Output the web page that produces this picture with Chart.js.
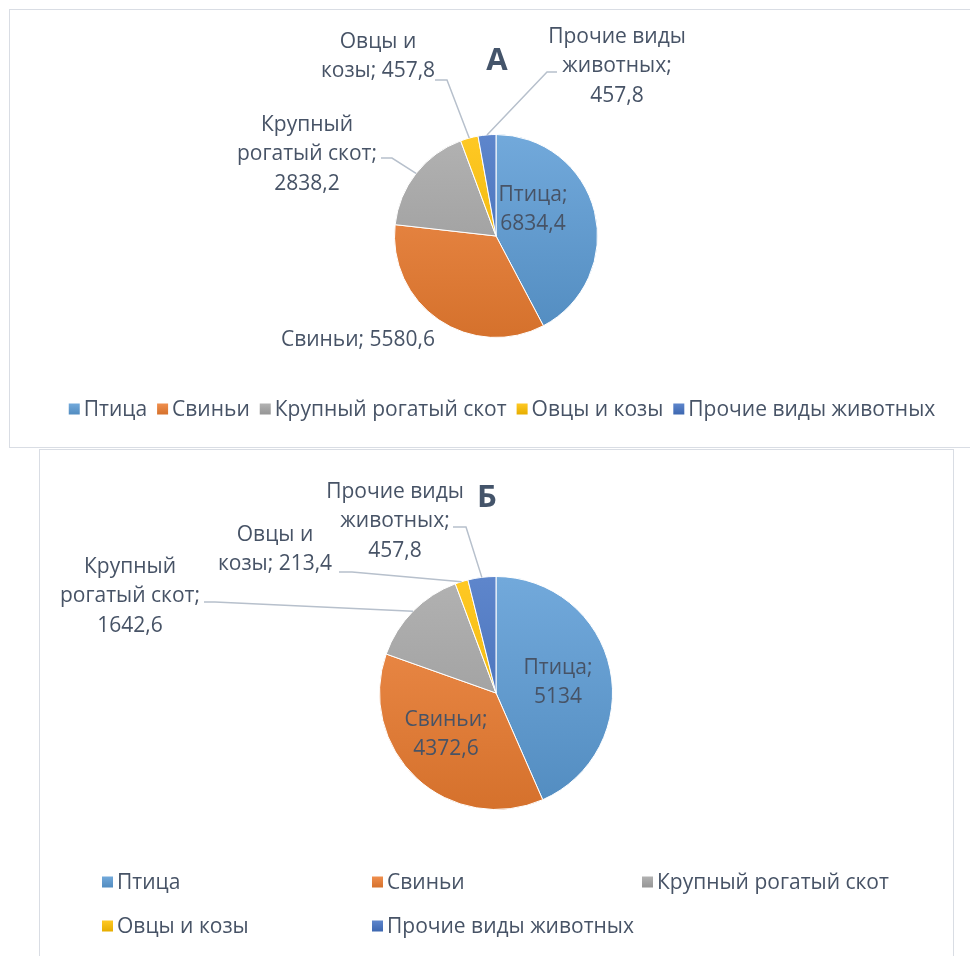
<!DOCTYPE html>
<html><head><meta charset="utf-8">
<script src="https://cdn.jsdelivr.net/npm/chart.js@4.4.1/dist/chart.umd.min.js"></script>
<style>
html,body{margin:0;padding:0;background:#fff;}
body{width:970px;height:956px;overflow:hidden;position:relative;}
.box{position:absolute;border:1.5px solid #D9DDE4;box-sizing:border-box;}
#boxA{left:9px;top:9px;width:1000px;height:439px;}
#boxB{left:39px;top:449px;width:915px;height:530px;}
.wrap{position:absolute;}
#wrapA{left:10px;top:10px;width:960px;height:437px;}
#wrapB{left:40px;top:451px;width:912px;height:505px;}
</style></head>
<body>
<div class="box" id="boxA"></div>
<div class="box" id="boxB"></div>
<div class="wrap" id="wrapA"><canvas id="chartA" width="960" height="437"></canvas></div>
<div class="wrap" id="wrapB"><canvas id="chartB" width="912" height="505"></canvas></div>
<script>
const categories = ['Птица', 'Свиньи', 'Крупный рогатый скот', 'Овцы и козы', 'Прочие виды животных'];
const valuesA = [6834.4, 5580.6, 2838.2, 457.8, 457.8];
const valuesB = [5134, 4372.6, 1642.6, 213.4, 457.8];
const titleA = 'А';
const titleB = 'Б';
const colors = ['#5B9BD5', '#ED7D31', '#A5A5A5', '#FFC000', '#4472C4'];

const FONT = "'Open Sans', 'DejaVu Sans', sans-serif";
const TEXT = '#475366';

function fmt(v) { return String(v).replace('.', ','); }
function shade(hex, p) {
  const n = parseInt(hex.slice(1), 16);
  let r = n >> 16, g = (n >> 8) & 255, b = n & 255;
  const f = c => p >= 0 ? Math.round(c + (255 - c) * p) : Math.round(c * (1 + p));
  return `rgb(${f(r)},${f(g)},${f(b)})`;
}
function gradFill(ctx) {
  const chart = ctx.chart, a = chart.chartArea;
  const c = colors[ctx.dataIndex];
  if (!a) return c;
  const g = chart.ctx.createLinearGradient(0, a.top, 0, a.bottom);
  g.addColorStop(0, shade(c, 0.14));
  g.addColorStop(1, shade(c, -0.1));
  return g;
}

const labelPlugin = {
  id: 'pieLabels',
  afterDatasetsDraw(chart, args, opts) {
    const meta = chart.getDatasetMeta(0);
    const ctx = chart.ctx;
    const a0 = meta.data[0];
    const cx = a0.x, cy = a0.y, r = a0.outerRadius;
    ctx.save();
    ctx.font = opts.font;
    ctx.fillStyle = TEXT;
    ctx.textAlign = 'center';
    ctx.textBaseline = 'middle';
    ctx.strokeStyle = '#B7C0CC';
    ctx.lineWidth = 1.5;
    opts.items.forEach((it, i) => {
      const arc = meta.data[i];
      const v = chart.data.datasets[0].data[i];
      if (it.leader) {
        const mid = (arc.startAngle + arc.endAngle) / 2;
        const ex = cx + Math.cos(mid) * r, ey = cy + Math.sin(mid) * r;
        ctx.beginPath();
        ctx.moveTo(cx + it.leader[0], cy + it.leader[1]);
        ctx.lineTo(cx + it.leader[2], cy + it.leader[1]);
        ctx.lineTo(ex, ey);
        ctx.stroke();
      }
      it.lines.forEach((s, k) => {
        ctx.fillText(s.replace('{v}', fmt(v)), cx + it.dx, cy + it.dy + k * opts.lineHeight);
      });
    });
    ctx.font = opts.titleFont;
    ctx.fillStyle = '#44546A';
    ctx.fillText(opts.title, cx + opts.titlePos[0], cy + opts.titlePos[1]);
    ctx.restore();
  }
};

const legendPlugin = {
  id: 'customLegend',
  afterDraw(chart, args, opts) {
    const ctx = chart.ctx;
    const items = chart.options.plugins.legend.labels.generateLabels(chart);
    ctx.save();
    ctx.font = opts.font;
    ctx.textBaseline = 'middle';
    ctx.textAlign = 'left';
    const box = opts.box;
    let positions = [];
    if (opts.mode === 'row') {
      const widths = items.map(it => box + opts.gapText + ctx.measureText(it.text).width);
      const total = widths.reduce((s, w) => s + w, 0) + opts.gapItem * (items.length - 1);
      let x = opts.centerX - total / 2;
      items.forEach((it, i) => { positions.push([x, opts.y]); x += widths[i] + opts.gapItem; });
    } else {
      items.forEach((it, i) => {
        const col = i % opts.cols, row = Math.floor(i / opts.cols);
        positions.push([opts.x0 + col * opts.colW, opts.y0 + row * opts.rowH]);
      });
    }
    items.forEach((it, i) => {
      const [x, y] = positions[i];
      const c = colors[it.index];
      const g = ctx.createLinearGradient(0, y - box / 2, 0, y + box / 2);
      g.addColorStop(0, shade(c, 0.14));
      g.addColorStop(1, shade(c, -0.1));
      ctx.fillStyle = g;
      ctx.fillRect(x, y - box / 2, box, box);
      ctx.fillStyle = TEXT;
      ctx.fillText(it.text, x + box + opts.gapText, y + 1);
    });
    ctx.restore();
  }
};

function makeChart(id, values, padding, labelOpts, legendOpts) {
  return new Chart(document.getElementById(id), {
    type: 'pie',
    data: {
      labels: categories,
      datasets: [{
        data: values,
        backgroundColor: gradFill,
        borderColor: '#ffffff',
        borderWidth: 1
      }]
    },
    options: {
      responsive: false,
      animation: false,
      layout: { padding: padding },
      plugins: {
        legend: { display: false },
        tooltip: { enabled: false },
        title: { display: false },
        pieLabels: labelOpts,
        customLegend: legendOpts
      }
    },
    plugins: [labelPlugin, legendPlugin]
  });
}

makeChart('chartA', valuesA,
  { top: 124, bottom: 109, left: 384, right: 372 },
  {
    font: `21px ${FONT}`, lineHeight: 29.5, title: titleA, titleFont: `bold 31px ${FONT}`, titlePos: [1, -175],
    items: [
      { lines: ['Птица;', '{v}'], dx: 37, dy: -41 },
      { lines: ['Свиньи; {v}'], dx: -138, dy: 104 },
      { lines: ['Крупный', 'рогатый скот;', '{v}'], dx: -189, dy: -111, leader: [-115, -78, -104] },
      { lines: ['Овцы и', 'козы; {v}'], dx: -118, dy: -194, leader: [-61, -156, -49] },
      { lines: ['Прочие виды', 'животных;', '{v}'], dx: 121, dy: -199, leader: [61, -164, 51] }
    ]
  },
  { mode: 'row', font: `21px ${FONT}`, box: 11, gapText: 4, gapItem: 10, centerX: 492, y: 399 }
);

makeChart('chartB', valuesB,
  { top: 125, bottom: 146, left: 339, right: 339 },
  {
    font: `21px ${FONT}`, lineHeight: 29.5, title: titleB, titleFont: `bold 31px ${FONT}`, titlePos: [-9, -195],
    items: [
      { lines: ['Птица;', '{v}'], dx: 62, dy: -25 },
      { lines: ['Свиньи;', '{v}'], dx: -50, dy: 27 },
      { lines: ['Крупный', 'рогатый скот;', '{v}'], dx: -366, dy: -126, leader: [-292, -91, -281] },
      { lines: ['Овцы и', 'козы; {v}'], dx: -221, dy: -158, leader: [-157, -121, -144] },
      { lines: ['Прочие виды', 'животных;', '{v}'], dx: -101, dy: -201, leader: [-43, -166, -30] }
    ]
  },
  { mode: 'grid', font: `21px ${FONT}`, box: 11, gapText: 4, cols: 3, colW: 270, rowH: 44, x0: 62, y0: 431 }
);
</script>
</body></html>
